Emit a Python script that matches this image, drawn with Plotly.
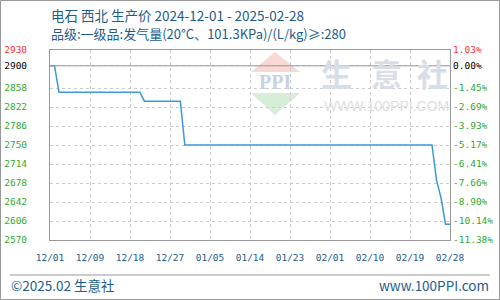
import plotly.graph_objects as go
import pandas as pd

# ---- data ----
dates = ["2024-12-01", "2024-12-02", "2024-12-03", "2024-12-21", "2024-12-22",
         "2024-12-30", "2024-12-31", "2025-02-24", "2025-02-25", "2025-02-26",
         "2025-02-27", "2025-02-28"]
prices = [2900, 2900, 2850, 2850, 2833, 2833, 2750, 2750, 2683, 2650, 2600, 2600]

y_ticks = [2570, 2606, 2642, 2678, 2714, 2750, 2786, 2822, 2858, 2900, 2930]
pct_labels = ["-11.38%", "-10.14%", "-8.90%", "-7.66%", "-6.41%", "-5.17%",
              "-3.93%", "-2.69%", "-1.45%", "0.00%", "1.03%"]
x_labels = ["12/01", "12/09", "12/18", "12/27", "01/05", "01/14", "01/23",
            "02/01", "02/10", "02/19", "02/28"]
base_price = 2900

title1 = "电石 西北 生产价 2024-12-01 - 2025-02-28"
title2 = "品级:一级品:发气量(20°C、101.3KPa)/(L/kg)≥:280"
footer_left = "©2025.02 生意社"
footer_right = "www.100PPI.com"

# ---- styling ----
BLUE_TXT = "#1d5c8c"
LINE = "#3d9ad6"
GRID = "#cccccc"
RED = "#ff3030"
GREEN = "#2faa2f"
MONO = "DejaVu Sans Mono"
TXT = "Noto Sans CJK SC"

def col(v):
    return RED if v > base_price else ("#000000" if v == base_price else GREEN)

left_text = [f'<span style="color:{col(v)}">{v}</span>' for v in y_ticks]
right_text = [f'<span style="color:{col(v)}">{p}</span>' for v, p in zip(y_ticks, pct_labels)]

start = pd.Timestamp(dates[0])
end = pd.Timestamp(dates[-1])
span = (end - start) / (len(x_labels) - 1)
x_tickvals = [start + span * i for i in range(len(x_labels))]

W, H = 500, 300
L, R, T, B = 50, 50, 50, 60
pw, ph = W - L - R, H - T - B

def px(x):
    return (x - L) / pw

def py(y):
    return (H - B - y) / ph

fig = go.Figure()
fig.add_trace(go.Scatter(x=dates, y=prices, mode="lines",
                         line=dict(color=LINE, width=1.5), hoverinfo="skip",
                         showlegend=False))
fig.add_trace(go.Scatter(x=dates, y=prices, mode="lines", yaxis="y2",
                         line=dict(color="rgba(0,0,0,0)", width=0),
                         hoverinfo="skip", showlegend=False))

axis_common = dict(showline=True, mirror=True, linecolor="#999999", linewidth=1,
                   ticks="", fixedrange=True, automargin=False)

fig.update_layout(
    width=W, height=H,
    margin=dict(l=L, r=R, t=T, b=B, pad=0, autoexpand=False),
    paper_bgcolor="white", plot_bgcolor="white",
    showlegend=False,
    xaxis=dict(type="date", range=[start, end], tickvals=x_tickvals, ticktext=x_labels,
               showgrid=True, gridcolor=GRID, griddash="3px,3px", gridwidth=1,
               tickfont=dict(family=MONO, size=9.5, color=BLUE_TXT),
               ticklabelstandoff=9, **axis_common),
    yaxis=dict(range=[y_ticks[0], y_ticks[-1]], tickvals=y_ticks, ticktext=left_text,
               showgrid=True, gridcolor=GRID, griddash="3px,3px", gridwidth=1,
               zeroline=False,
               tickfont=dict(family=MONO, size=9.5), ticklabelstandoff=20,
               **axis_common),
    yaxis2=dict(range=[y_ticks[0], y_ticks[-1]], tickvals=y_ticks, ticktext=right_text,
                overlaying="y", side="right", showgrid=False, zeroline=False,
                tickfont=dict(family=MONO, size=9.5), ticklabelstandoff=2,
                showline=False, ticks="", fixedrange=True, automargin=False),
)

shapes = []
# base price line
shapes.append(dict(type="line", xref="paper", yref="y", x0=0, x1=1,
                   y0=base_price, y1=base_price, line=dict(color="#999999", width=1),
                   layer="above"))
# watermark logo triangles
shapes.append(dict(type="path", xref="paper", yref="paper", layer="below",
                   path=f"M {px(275)} {py(52)} L {px(300)} {py(72)} L {px(251)} {py(72)} Z",
                   fillcolor="#f8d8d2", line=dict(width=0)))
shapes.append(dict(type="path", xref="paper", yref="paper", layer="below",
                   path=f"M {px(251)} {py(93)} L {px(300)} {py(93)} L {px(275)} {py(115)} Z",
                   fillcolor="#d6eed9", line=dict(width=0)))
# footer separator
shapes.append(dict(type="line", xref="paper", yref="paper", x0=px(10), x1=px(490),
                   y0=py(275), y1=py(275), line=dict(color="#999999", width=1)))
# outer frame
shapes.append(dict(type="rect", xref="paper", yref="paper", x0=px(0.5), x1=px(499.5),
                   y0=py(299.5), y1=py(0.5), line=dict(color="#999999", width=1)))
fig.update_layout(shapes=shapes)

ann = []
def add_text(text, x, y, size, color, family=TXT, xanchor="left"):
    ann.append(dict(text=text, x=px(x), y=py(y), xref="paper", yref="paper",
                    xanchor=xanchor, yanchor="middle", showarrow=False,
                    font=dict(family=family, size=size, color=color)))

add_text(title1, 49, 15, 13.5, BLUE_TXT)
add_text(title2, 49, 34, 13, BLUE_TXT)
add_text(footer_left, 9, 285, 13.5, BLUE_TXT)
add_text(footer_right, 491, 285, 13.5, BLUE_TXT, xanchor="right")
# watermark text
add_text("<b>PPI</b>", 275, 82, 20, "#c8d1e4", family="Liberation Serif", xanchor="center")
for ch, cx in zip("生意社", [336, 386, 432]):
    add_text(f"<b>{ch}</b>", cx, 72, 31, "#d9dde8", xanchor="center")
add_text("WWW.100PPI.COM", 386, 106, 14, "#e0e0e0", family="Liberation Sans", xanchor="center")
fig.update_layout(annotations=ann)

fig.write_html("out.html")
